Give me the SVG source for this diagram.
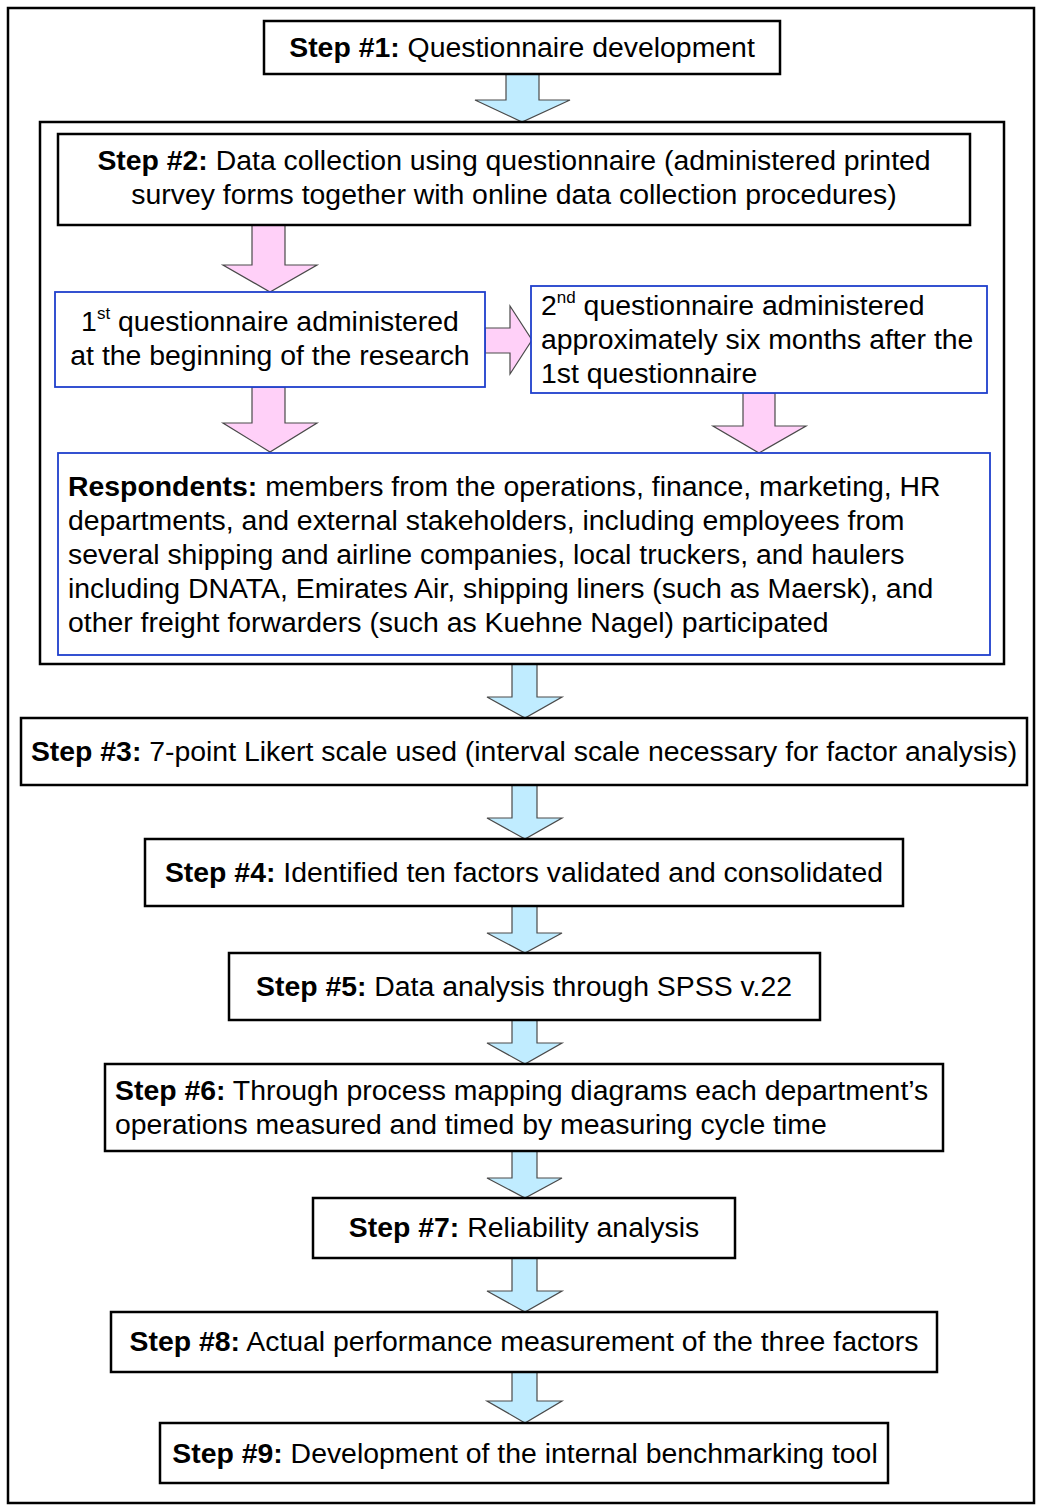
<svg xmlns="http://www.w3.org/2000/svg" width="1041" height="1506" viewBox="0 0 1041 1506">
<style>
.box{fill:#fff;stroke:#000;stroke-width:2.5}
.bbox{fill:#fff;stroke:#1f3fcc;stroke-width:1.8}
.frame{fill:none;stroke:#000;stroke-width:2.5}
.ba{fill:#c0ecff;stroke:#4a4a4a;stroke-width:1.2}
.pa{fill:#ffd0f8;stroke:#4a4a4a;stroke-width:1.2}
text{font-family:"Liberation Sans",Arial,sans-serif;font-size:28.4px;fill:#000}
.c{text-anchor:middle}
.b{font-weight:bold}
.sup{font-size:17px}
</style>
<rect class="frame" x="8" y="8" width="1026" height="1495"/>
<g id="connectors">
<polygon class="ba" points="506,74 539,74 539,100 570,100 522,122 475,100 506,100"/>
<polygon class="pa" points="252,225 285,225 285,265 317,265 270,292 223,265 252,265"/>
<polygon class="pa" points="485,328 510,328 510,306 532,340 510,374 510,353 485,353"/>
<polygon class="pa" points="252,387 285,387 285,423 317,423 270,452 223,423 252,423"/>
<polygon class="pa" points="743,393 775,393 775,426 806,426 759,453 713,426 743,426"/>
<polygon class="ba" points="512,664 537,664 537,697 562,697 525,718 487,697 512,697"/>
<polygon class="ba" points="512,785 537,785 537,818 562,818 525,839 487,818 512,818"/>
<polygon class="ba" points="512,906 537,906 537,933 562,933 525,953 487,933 512,933"/>
<polygon class="ba" points="512,1020 537,1020 537,1043 562,1043 525,1064 487,1043 512,1043"/>
<polygon class="ba" points="512,1151 537,1151 537,1178 562,1178 525,1198 487,1178 512,1178"/>
<polygon class="ba" points="512,1258 537,1258 537,1291 562,1291 525,1312 487,1291 512,1291"/>
<polygon class="ba" points="512,1372 537,1372 537,1401 562,1401 525,1423 487,1401 512,1401"/>
</g>
<g id="step1">
<rect class="box" x="264" y="21" width="516" height="53"/>
<text class="c" x="522" y="57"><tspan class="b">Step #1:</tspan> Questionnaire development</text>
</g>
<g id="step2-group">
<rect class="frame" x="40" y="122" width="964" height="542"/>
</g>
<g id="step2">
<rect class="box" x="58" y="134" width="912" height="91"/>
<text class="c" x="514" y="170"><tspan class="b">Step #2:</tspan> Data collection using questionnaire (administered printed</text>
<text class="c" x="514" y="204">survey forms together with online data collection procedures)</text>
</g>
<g id="q1">
<rect class="bbox" x="55" y="292" width="430" height="95"/>
<text class="c" x="270" y="331">1<tspan class="sup" dy="-12">st</tspan><tspan dy="12"> questionnaire administered</tspan></text>
<text class="c" x="270" y="365">at the beginning of the research</text>
</g>
<g id="q2">
<rect class="bbox" x="531" y="286" width="456" height="107"/>
<text x="541" y="315">2<tspan class="sup" dy="-12">nd</tspan><tspan dy="12"> questionnaire administered</tspan></text>
<text x="541" y="349">approximately six months after the</text>
<text x="541" y="383">1st questionnaire</text>
</g>
<g id="respondents">
<rect class="bbox" x="58" y="453" width="932" height="202"/>
<text x="68" y="496"><tspan class="b">Respondents:</tspan> members from the operations, finance, marketing, HR</text>
<text x="68" y="530">departments, and external stakeholders, including employees from</text>
<text x="68" y="564">several shipping and airline companies, local truckers, and haulers</text>
<text x="68" y="598">including DNATA, Emirates Air, shipping liners (such as Maersk), and</text>
<text x="68" y="632">other freight forwarders (such as Kuehne Nagel) participated</text>
</g>
<g id="step3">
<rect class="box" x="21" y="718" width="1006" height="67"/>
<text class="c" x="524" y="761"><tspan class="b">Step #3:</tspan> 7-point Likert scale used (interval scale necessary for factor analysis)</text>
</g>
<g id="step4">
<rect class="box" x="145" y="839" width="758" height="67"/>
<text class="c" x="524" y="882"><tspan class="b">Step #4:</tspan> Identified ten factors validated and consolidated</text>
</g>
<g id="step5">
<rect class="box" x="229" y="953" width="591" height="67"/>
<text class="c" x="524" y="996"><tspan class="b">Step #5:</tspan> Data analysis through SPSS v.22</text>
</g>
<g id="step6">
<rect class="box" x="105" y="1064" width="838" height="87"/>
<text x="115" y="1100"><tspan class="b">Step #6:</tspan> Through process mapping diagrams each department’s</text>
<text x="115" y="1134">operations measured and timed by measuring cycle time</text>
</g>
<g id="step7">
<rect class="box" x="313" y="1198" width="422" height="60"/>
<text class="c" x="524" y="1237"><tspan class="b">Step #7:</tspan> Reliability analysis</text>
</g>
<g id="step8">
<rect class="box" x="111" y="1312" width="826" height="60"/>
<text class="c" x="524" y="1351"><tspan class="b">Step #8:</tspan> Actual performance measurement of the three factors</text>
</g>
<g id="step9">
<rect class="box" x="160" y="1423" width="728" height="60"/>
<text class="c" x="525" y="1463"><tspan class="b">Step #9:</tspan> Development of the internal benchmarking tool</text>
</g>
</svg>
